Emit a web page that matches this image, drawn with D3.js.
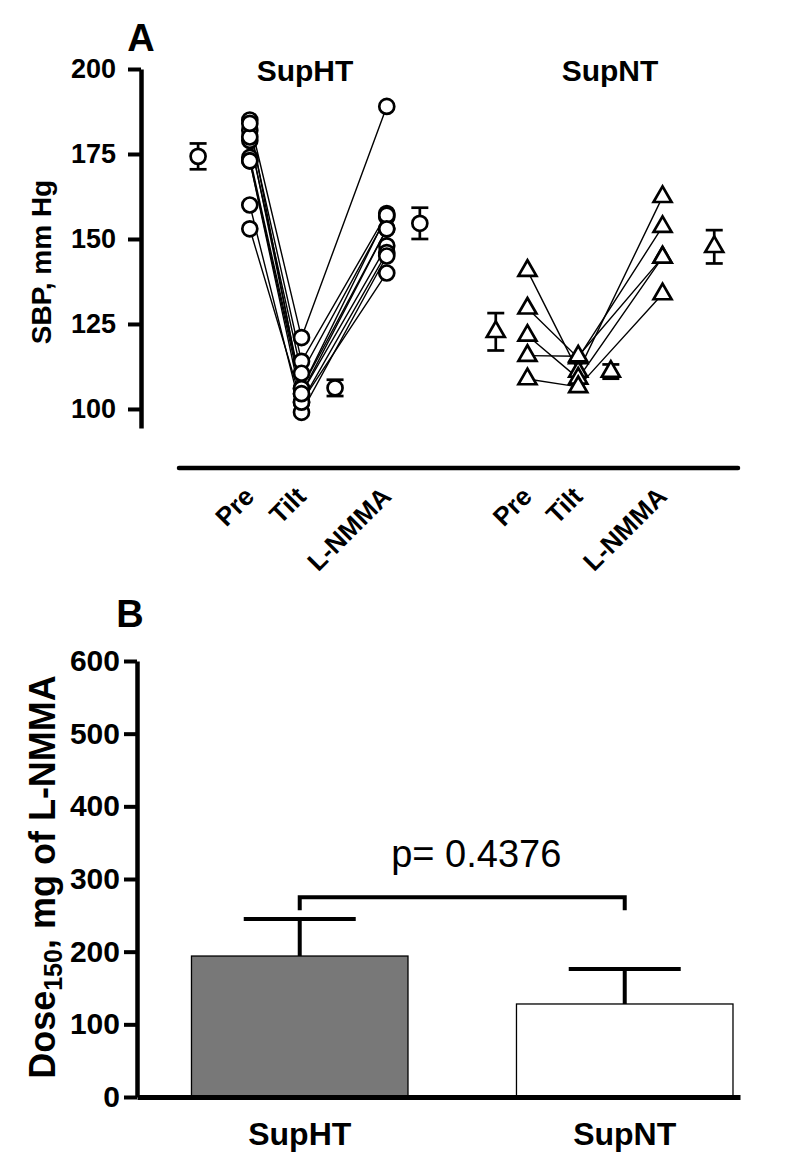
<!DOCTYPE html>
<html><head><meta charset="utf-8">
<script src="https://cdn.jsdelivr.net/npm/d3@7"></script>
<style>
body{margin:0;background:#fff}
text{font-family:"Liberation Sans",Arial,Helvetica,sans-serif;fill:#000}
</style>
</head><body>
<svg id="c" width="800" height="1156"></svg>
<script>
// ---------------- DATA ----------------
const timepoints = ["Pre", "Tilt", "L-NMMA"];
const groupsA = ["SupHT", "SupNT"];
// SupHT individual subjects (SBP, mm Hg)
const htPre   = [185, 182, 179, 174, 173, 173, 160, 153, 180, 184];
const htTilt  = [121, 114, 110.5, 106, 104.5, 102, 99, 102, 106, 104.5];
const htLnmma = [189, 157.5, 156.5, 153, 148, 146, 145, 140, 157, 153];
// SupNT individual subjects
const ntPre   = [140.7, 129.6, 121.6, 115.7, 108.8];
const ntTilt  = [111, 115, 109, 115.5, 106.5];
const ntLnmma = [162.4, 153.6, 144.6, 144.6, 133.8];
// group mean ± SE
const htMean = [174.3, 106.2, 154.6];
const htSE   = [3.8, 2.4, 4.6];
const ntMean = [122.7, 111.0, 147.7];
const ntSE   = [5.5, 2.1, 4.9];
const yTicksA = [100, 125, 150, 175, 200];

// Panel B
const groupsB = ["SupHT", "SupNT"];
const doseMean = [194, 128];
const doseSE = [51, 48];
const yTicksB = [0, 100, 200, 300, 400, 500, 600];
const pLabel = "p= 0.4376";

// ---------------- LAYOUT ----------------
const svg = d3.select("#c");
const BOLD = 700;

// slot positions (layout only) on a 0..12 horizontal slot scale
const slotPts  = {SupHT: [1.52, 2.63, 4.46], SupNT: [7.48, 8.57, 10.38]};
const slotMean = {SupHT: [0.41, 3.35, 5.17], SupNT: [6.80, 9.27, 11.49]};

const xA = d3.scaleLinear().domain([0, 12]).range([179, 738]);
const yA = d3.scaleLinear().domain([94.4, 200]).range([428, 69]);

// ---- Panel A axes
const gyA = svg.append("g").attr("transform", "translate(141,0)")
  .call(d3.axisLeft(yA).tickValues(yTicksA).tickSize(13).tickSizeOuter(0).tickPadding(12));
gyA.select(".domain").attr("stroke-width", 4.5).attr("stroke", "#000");
gyA.selectAll(".tick line").attr("stroke-width", 4).attr("stroke", "#000");
gyA.selectAll(".tick text").attr("font-size", 27).attr("font-weight", BOLD)
  .attr("font-family", "Liberation Sans, Arial, sans-serif");

// horizontal baseline of panel A
svg.append("line").attr("x1", xA(0)).attr("x2", xA(12)).attr("y1", 468).attr("y2", 468)
  .attr("stroke", "#000").attr("stroke-width", 4.5).attr("stroke-linecap", "round");

// rotated time-point labels
groupsA.forEach(g => {
  timepoints.forEach((t, i) => {
    const x = xA(slotPts[g][i]) + 6, y = 498;
    svg.append("text").attr("transform", `translate(${x},${y}) rotate(-45)`)
      .attr("text-anchor", "end").attr("font-size", 26).attr("font-weight", BOLD).text(t);
  });
});

// group titles
svg.append("text").attr("x", 305).attr("y", 81).attr("text-anchor", "middle")
  .attr("font-size", 30).attr("font-weight", BOLD).text(groupsA[0]);
svg.append("text").attr("x", 610).attr("y", 81).attr("text-anchor", "middle")
  .attr("font-size", 30).attr("font-weight", BOLD).text(groupsA[1]);

// panel letter + y label
svg.append("text").attr("x", 141).attr("y", 51).attr("text-anchor", "middle")
  .attr("font-size", 38).attr("font-weight", BOLD).text("A");
svg.append("text").attr("transform", "translate(51,262) rotate(-90)").attr("text-anchor", "middle")
  .attr("font-size", 28).attr("font-weight", BOLD).text("SBP, mm Hg");

// ---- Panel A data
const lineGen = d3.line();
const ptsHT = htPre.map((d, k) => [htPre[k], htTilt[k], htLnmma[k]]);
const ptsNT = ntPre.map((d, k) => [ntPre[k], ntTilt[k], ntLnmma[k]]);

function subjLines(rows, g) {
  svg.append("g").selectAll("path").data(rows).join("path")
    .attr("d", r => lineGen(r.map((v, i) => [xA(slotPts[g][i]), yA(v)])))
    .attr("fill", "none").attr("stroke", "#000").attr("stroke-width", 1.4);
}
subjLines(ptsHT, "SupHT");
subjLines(ptsNT, "SupNT");

const triSym = d3.symbol().type(d3.symbolTriangle).size(140);
function marker(sel, shape) {
  if (shape === "circle") {
    return sel.append("circle").attr("r", 7.5).attr("fill", "#fff")
      .attr("stroke", "#000").attr("stroke-width", 2.7);
  }
  return sel.append("path").attr("d", triSym()).attr("fill", "#fff")
    .attr("stroke", "#000").attr("stroke-width", 2.7).attr("stroke-linejoin", "miter");
}

function subjPoints(rows, g, shape) {
  rows.forEach(r => r.forEach((v, i) => {
    const gg = svg.append("g").attr("transform", `translate(${xA(slotPts[g][i])},${yA(v)})`);
    marker(gg, shape);
  }));
}
subjPoints(ptsHT, "SupHT", "circle");
subjPoints(ptsNT, "SupNT", "triangle");

function meanPoints(means, ses, g, shape) {
  means.forEach((m, i) => {
    const x = xA(slotMean[g][i]);
    const gg = svg.append("g");
    gg.append("line").attr("x1", x).attr("x2", x).attr("y1", yA(m - ses[i])).attr("y2", yA(m + ses[i]))
      .attr("stroke", "#000").attr("stroke-width", 2.7);
    [m - ses[i], m + ses[i]].forEach(v => {
      gg.append("line").attr("x1", x - 8.5).attr("x2", x + 8.5).attr("y1", yA(v)).attr("y2", yA(v))
        .attr("stroke", "#000").attr("stroke-width", 2.7);
    });
    const mg = gg.append("g").attr("transform", `translate(${x},${yA(m)})`);
    marker(mg, shape);
  });
}
meanPoints(htMean, htSE, "SupHT", "circle");
meanPoints(ntMean, ntSE, "SupNT", "triangle");

// ---------------- Panel B ----------------
const yB = d3.scaleLinear().domain([0, 600]).range([1097, 661]);
const xB = d3.scaleBand().domain(groupsB).range([137, 740])
  .paddingInner(0.3338).paddingOuter(0.0946).align(0.886);

svg.append("g").selectAll("rect").data(groupsB).join("rect")
  .attr("x", d => xB(d)).attr("width", xB.bandwidth())
  .attr("y", (d, i) => yB(doseMean[i])).attr("height", (d, i) => yB(0) - yB(doseMean[i]))
  .attr("fill", (d, i) => i === 0 ? "#787878" : "#fff")
  .attr("stroke", "#000").attr("stroke-width", 1.3);

// error bars (upper)
groupsB.forEach((g, i) => {
  const cx = xB(g) + xB.bandwidth() / 2;
  svg.append("line").attr("x1", cx).attr("x2", cx)
    .attr("y1", yB(doseMean[i])).attr("y2", yB(doseMean[i] + doseSE[i]))
    .attr("stroke", "#000").attr("stroke-width", 4);
  svg.append("line").attr("x1", cx - 56).attr("x2", cx + 56)
    .attr("y1", yB(doseMean[i] + doseSE[i])).attr("y2", yB(doseMean[i] + doseSE[i]))
    .attr("stroke", "#000").attr("stroke-width", 4);
});

// significance bracket
const c1 = xB(groupsB[0]) + xB.bandwidth() / 2;
const c2 = xB(groupsB[1]) + xB.bandwidth() / 2;
const brY = yB(275), brEnd = yB(257);
svg.append("path").attr("d", `M${c1},${brEnd}V${brY}H${c2}V${brEnd}`)
  .attr("fill", "none").attr("stroke", "#000").attr("stroke-width", 4);
svg.append("text").attr("x", (c1 + c2) / 2 + 14).attr("y", brY - 30).attr("text-anchor", "middle")
  .attr("font-size", 38).text(pLabel);

// axes B
const gyB = svg.append("g").attr("transform", "translate(137,0)")
  .call(d3.axisLeft(yB).tickValues(yTicksB).tickSize(13).tickSizeOuter(0).tickPadding(4));
gyB.select(".domain").attr("stroke-width", 4.5).attr("stroke", "#000");
gyB.selectAll(".tick line").attr("stroke-width", 4).attr("stroke", "#000");
gyB.selectAll(".tick text").attr("font-size", 30).attr("font-weight", BOLD)
  .attr("font-family", "Liberation Sans, Arial, sans-serif");

const gxB = svg.append("g").attr("transform", `translate(0,${yB(0)})`)
  .call(d3.axisBottom(xB).tickSize(0).tickSizeOuter(0).tickPadding(25));
gxB.select(".domain").attr("stroke-width", 5).attr("stroke", "#000");
gxB.selectAll(".tick text").attr("font-size", 32).attr("font-weight", BOLD)
  .attr("font-family", "Liberation Sans, Arial, sans-serif");

svg.append("text").attr("x", 130).attr("y", 627).attr("text-anchor", "middle")
  .attr("font-size", 38).attr("font-weight", BOLD).text("B");

const yl = svg.append("text").attr("transform", "translate(55,877) rotate(-90)")
  .attr("text-anchor", "middle").attr("font-size", 36).attr("font-weight", BOLD);
yl.append("tspan").text("Dose");
yl.append("tspan").attr("font-size", 25).attr("dy", 7).text("150");
yl.append("tspan").attr("dy", -7).text(", mg of L-NMMA");
</script>
</body></html>
